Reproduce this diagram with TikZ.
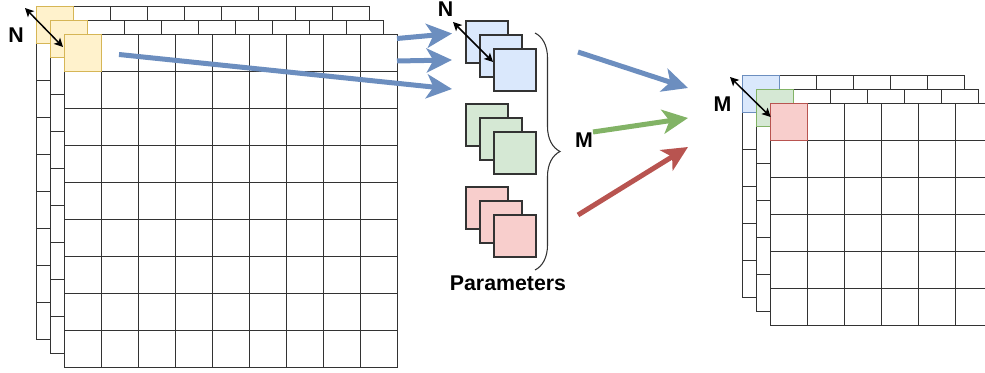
\documentclass[tikz,border=0pt]{standalone}
\usepackage{fontspec}
\setmainfont{Liberation Sans}
\usetikzlibrary{arrows.meta,decorations.pathreplacing}

\definecolor{yelfill}{HTML}{FFF2CC}
\definecolor{yelline}{HTML}{D6B656}
\definecolor{blufill}{HTML}{DAE8FC}
\definecolor{bluline}{HTML}{6C8EBF}
\definecolor{grnfill}{HTML}{D5E8D4}
\definecolor{grnline}{HTML}{82B366}
\definecolor{redfill}{HTML}{F8CECC}
\definecolor{redline}{HTML}{B85450}

\tikzset{
  gridline/.style={draw=black!80, line width=0.9pt},
  kernel/.style={draw=black!80, line width=0.9pt},
  lbl/.style={font=\bfseries\fontsize{16}{19}\selectfont, inner sep=0pt},
  bigarrow/.style={line width=3.75pt, -{Stealth[length=19pt, width=18pt, inset=5pt]}},
  dimarrow/.style={line width=1.1pt, {Stealth[length=6.5pt, width=6.5pt, inset=1.5pt]}-{Stealth[length=6.5pt, width=6.5pt, inset=1.5pt]}},
  bracestyle/.style={draw=black!80, line width=0.8pt, decorate, decoration={brace, amplitude=18.75pt}}
}

% one layer of a feature map: x, y, cells per side, colours of the first cell
\newcommand{\cella}{37}
\newcommand{\gridlayer}[5]{%
  \pgfmathsetmacro{\gsize}{#3*\cella}
  \pgfmathtruncatemacro{\nlast}{#3-1}
  \filldraw[gridline, fill=white] (#1,#2) rectangle ++(\gsize,\gsize);
  \foreach \k in {1,...,\nlast}{
    \draw[gridline] ({#1+\k*\cella},#2) -- ++(0,\gsize);
    \draw[gridline] (#1,{#2+\k*\cella}) -- ++(\gsize,0);
  }
  \filldraw[fill=#4, draw=#5, line width=0.9pt] (#1,#2) rectangle ++(\cella,\cella);
}

\begin{document}
\begin{tikzpicture}[x=0.75pt,y=-0.75pt]
\useasboundingbox (0,0) rectangle (985,373);
\clip (0,0) rectangle (985,373);

% input
\gridlayer{36.5}{6.5}{9}{yelfill}{yelline}
\gridlayer{50.5}{20.5}{9}{yelfill}{yelline}
\gridlayer{64.5}{34.5}{9}{yelfill}{yelline}

\draw[dimarrow] (25,8) coordinate (nin1) -- (63,47) coordinate (nin2);
\node[lbl] (nin) at (16,35) {N};

% parameters
\foreach \s in {0,1,2}{
  \draw[kernel, fill=blufill] ({466+14*\s},{21+14*\s}) rectangle ++(42,42);
  \draw[kernel, fill=grnfill] ({466+14*\s},{104+14*\s}) rectangle ++(42,42);
  \draw[kernel, fill=redfill] ({466+14*\s},{187+14*\s}) rectangle ++(42,42);
}

\draw[dimarrow] (453,22) coordinate (nk1) -- (493,62) coordinate (nk2);
\node[lbl] (nk) at (445.5,9) {N};

\draw[bracestyle] (535,33) coordinate (br1) -- (535,270) coordinate (br2);
\node[lbl] (par) at (508,283.5) {Parameters};

% output
\gridlayer{742.7}{75.5}{6}{blufill}{bluline}
\gridlayer{756.7}{89.5}{6}{grnfill}{grnline}
\gridlayer{770.7}{103.5}{6}{redfill}{redline}

\draw[dimarrow] (730,77) coordinate (mo1) -- (770.7,117) coordinate (mo2);
\node[lbl] (mout) at (722.5,104.5) {M};

% arrows
\coordinate (a1s) at (397,38.5);  \coordinate (a1e) at (452,33.5);
\coordinate (a2s) at (397,61);    \coordinate (a2e) at (452,60);
\coordinate (a3s) at (119,54.5);  \coordinate (a3e) at (452,89);
\draw[bigarrow, draw=bluline] (a1s) -- (a1e);
\draw[bigarrow, draw=bluline] (a2s) -- (a2e);
\draw[bigarrow, draw=bluline] (a3s) -- (a3e);

\coordinate (bs) at (578,52);   \coordinate (be) at (688,88);
\coordinate (gs) at (593,132);  \coordinate (ge) at (688,118);
\coordinate (rs) at (578,215);  \coordinate (re) at (688,147);
\draw[bigarrow, draw=bluline] (bs) -- (be);
\draw[bigarrow, draw=grnline] (gs) -- (ge);
\draw[bigarrow, draw=redline] (rs) -- (re);
\node[lbl] (mmid) at (584,140) {M};

\end{tikzpicture}
\end{document}
